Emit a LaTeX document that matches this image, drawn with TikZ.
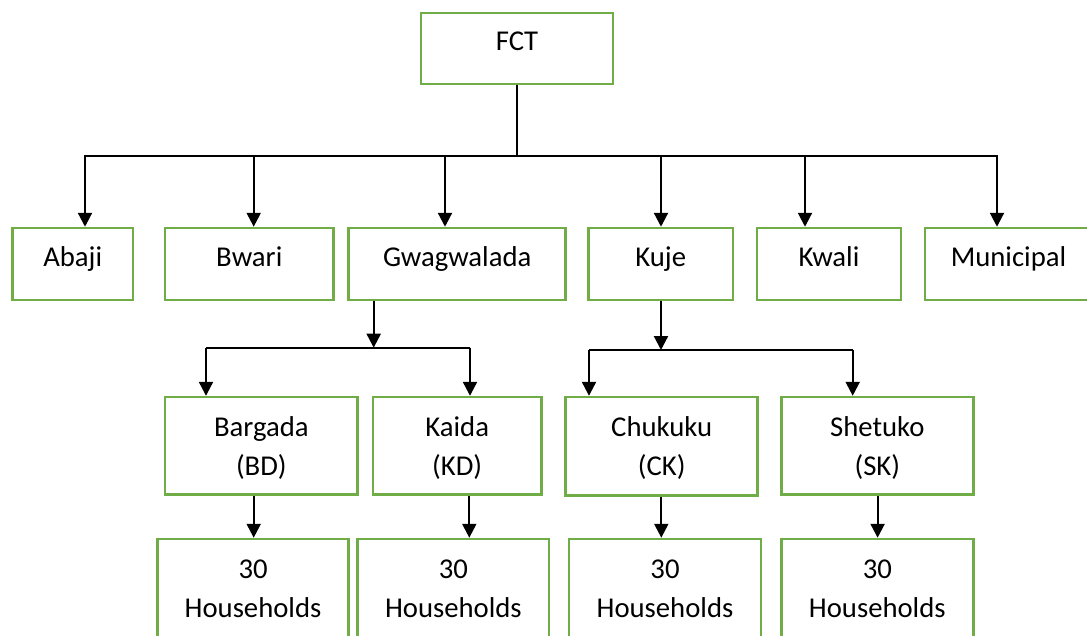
\documentclass[tikz,border=0pt]{standalone}
\usepackage{fontspec}
\setmainfont{Carlito}
\usetikzlibrary{arrows.meta}
\definecolor{boxgreen}{HTML}{70AD47}
\tikzset{
  box/.style={draw=boxgreen, line width=2.5pt, fill=white, inner sep=0pt, rectangle},
  lbl/.style={font=\fontsize{28.7}{38.5}\selectfont, inner sep=0pt, anchor=base, align=center},
  conn/.style={line width=2.2pt, black},
  arr/.style={conn, -{Triangle[length=14pt,width=14pt]}},
}
\begin{document}
\begin{tikzpicture}[x=1pt,y=-1pt]
\useasboundingbox (0,0) rectangle (1087,635);
\clip (0,0) rectangle (1087,635);
% level 0
\node[box, minimum width=192pt, minimum height=71pt] (fct) at (517,48.3) {};
\node[lbl] (fctt) at (517,50) {FCT};
% level 1
\node[box, minimum width=120.5pt, minimum height=72pt] (abaji) at (72.75,264) {};
\node[box, minimum width=168.5pt, minimum height=72pt] (bwari) at (249.25,264) {};
\node[box, minimum width=217pt, minimum height=72pt] (gwag) at (457.2,264) {};
\node[box, minimum width=144.2pt, minimum height=72pt] (kuje) at (660.7,264) {};
\node[box, minimum width=144pt, minimum height=72pt] (kwali) at (829,264) {};
\node[box, minimum width=167pt, minimum height=72pt] (muni) at (1008.5,264) {};
\node[lbl] (abajit) at (72.75,266.5) {Abaji};
\node[lbl] (bwarit) at (249.25,266.5) {Bwari};
\node[lbl] (gwagt) at (457.2,266.5) {Gwagwalada};
\node[lbl] (kujet) at (660.7,266.5) {Kuje};
\node[lbl] (kwalit) at (829,266.5) {Kwali};
\node[lbl] (munit) at (1008.5,266.5) {Municipal};
% level 2
\node[box, minimum width=192.7pt, minimum height=97.5pt] (bd) at (261.35,445.8) {};
\node[box, minimum width=168.4pt, minimum height=97.5pt] (kd) at (457.2,445.8) {};
\node[box, minimum width=192pt, minimum height=98.5pt] (ck) at (661.7,446.3) {};
\node[box, minimum width=192pt, minimum height=97.5pt] (sk) at (877.3,445.8) {};
\node[lbl] (bdt) at (261.35,475) {Bargada\\(BD)};
\node[lbl] (kdt) at (457.2,475) {Kaida\\(KD)};
\node[lbl] (ckt) at (661.7,475) {Chukuku\\(CK)};
\node[lbl] (skt) at (877.3,475) {Shetuko\\(SK)};
% level 3
\node[box, minimum width=191.3pt, minimum height=98pt] (hbd) at (253.05,588) {};
\node[box, minimum width=191.3pt, minimum height=98pt] (hkd) at (453.35,588) {};
\node[box, minimum width=192pt, minimum height=98pt] (hck) at (665,588) {};
\node[box, minimum width=192pt, minimum height=98pt] (hsk) at (877.3,588) {};
\node[lbl] (hbdt) at (253.05,617) {30\\Households};
\node[lbl] (hkdt) at (453.35,617) {30\\Households};
\node[lbl] (hckt) at (665,617) {30\\Households};
\node[lbl] (hskt) at (877.3,617) {30\\Households};
% bus coordinates
\coordinate (busL) at (85,155.7);
\coordinate (busR) at (997,155.7);
\coordinate (b1) at (253.7,155.7);
\coordinate (b2) at (445,155.7);
\coordinate (b3) at (661,155.7);
\coordinate (b4) at (805,155.7);
\coordinate (gj) at (373.7,347.7);
\coordinate (gL) at (206,347.7);
\coordinate (gR) at (470,347.7);
\coordinate (kj) at (661,350);
\coordinate (kL) at (589,350);
\coordinate (kR) at (852.7,350);
% connectors level 0 -> 1
\draw[conn] (fct.south -| 516.7,0) -- (516.7,155.7);
\draw[conn, line cap=rect] (busL) -- (busR);
\draw[arr] (busL) -- (busL |- abaji.north);
\draw[arr] (b1) -- (b1 |- bwari.north);
\draw[arr] (b2) -- (b2 |- gwag.north);
\draw[arr] (b3) -- (b3 |- kuje.north);
\draw[arr] (b4) -- (b4 |- kwali.north);
\draw[arr] (busR) -- (busR |- muni.north);
% Gwagwalada -> BD, KD
\draw[arr] (gj |- gwag.south) -- (gj);
\draw[conn] (gL) -- (gR);
\draw[arr] (gL) -- (gL |- bd.north);
\draw[arr] (gR) -- (gR |- kd.north);
% Kuje -> CK, SK
\draw[arr] (kj |- kuje.south) -- (kj);
\draw[conn] (kL) -- (kR);
\draw[arr] (kL) -- (kL |- ck.north);
\draw[arr] (kR) -- (kR |- sk.north);
% level 2 -> 3
\draw[arr] ([xshift=-7.65pt]bd.south) -- ([xshift=-7.65pt]bd.south |- hbd.north);
\draw[arr] ([xshift=12.1pt]kd.south) -- ([xshift=12.1pt]kd.south |- hkd.north);
\draw[arr] ([xshift=-0.4pt]ck.south) -- ([xshift=-0.4pt]ck.south |- hck.north);
\draw[arr] ([xshift=0.3pt]sk.south) -- ([xshift=0.3pt]sk.south |- hsk.north);
\end{tikzpicture}
\end{document}
